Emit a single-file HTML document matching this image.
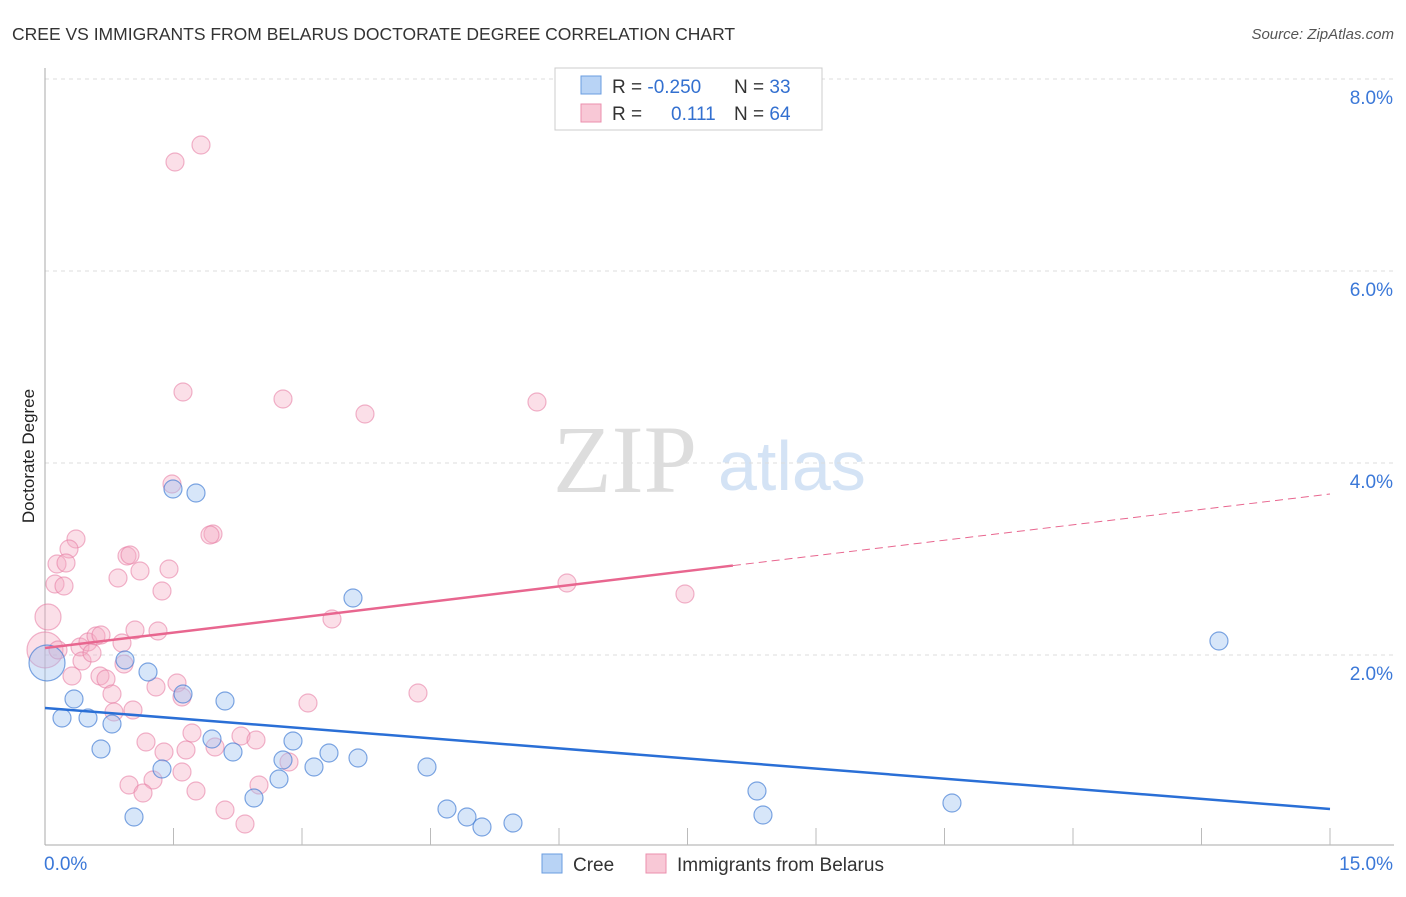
<!DOCTYPE html>
<html><head><meta charset="utf-8"><style>
body{margin:0;background:#fff;font-family:"Liberation Sans",sans-serif;}
</style></head><body>
<svg id="c" width="1406" height="892" font-family="Liberation Sans, sans-serif">
<text x="12" y="40" font-size="17.5" fill="#333">CREE VS IMMIGRANTS FROM BELARUS DOCTORATE DEGREE CORRELATION CHART</text>
<text x="1394" y="39" font-size="15" fill="#555" font-style="italic" text-anchor="end">Source: ZipAtlas.com</text>
<text x="34" y="456" font-size="17" fill="#222" text-anchor="middle" transform="rotate(-90 34 456)">Doctorate Degree</text>
<g>
<text x="553" y="492" font-size="96" fill="#ddd" style="font-family:'Liberation Serif',serif">ZIP</text>
<text x="718" y="490" font-size="70" fill="#d4e3f5">atlas</text>
</g>
<g id="grid"></g>
<g id="ticks"></g>
<g id="pts"></g>
<g id="trend"></g>
<g>
<rect x="555" y="68" width="267" height="62" fill="#fff" stroke="#ccc"/>
<rect x="581" y="76" width="20" height="18" fill="#b8d3f5" stroke="#6a9de0"/>
<rect x="581" y="104" width="20" height="18" fill="#f8c8d6" stroke="#eb8fae"/>
<text x="612" y="93" font-size="19" fill="#333">R = <tspan fill="#3370d0">-0.250</tspan><tspan x="734">N = </tspan><tspan fill="#3370d0">33</tspan></text>
<text x="612" y="120" font-size="19" fill="#333">R = <tspan x="671" fill="#3370d0">0.111</tspan><tspan x="734">N = </tspan><tspan fill="#3370d0">64</tspan></text>
</g>
<g>
<rect x="542" y="854" width="20" height="19" fill="#b8d3f5" stroke="#6a9de0"/>
<text x="573" y="871" font-size="19" fill="#333">Cree</text>
<rect x="646" y="854" width="20" height="19" fill="#f8c8d6" stroke="#eb8fae"/>
<text x="677" y="871" font-size="19" fill="#333">Immigrants from Belarus</text>
</g>
</svg>
<script>
const yTicks=[2,4,6,8];
const yTickLabels=["2.0%","4.0%","6.0%","8.0%"];
const xTickLabels=["0.0%","15.0%"];
function px(p){return (p-45)/85.67;} function py(p){return (847-p)/96;}
const creeX=[47,125,148,74,62,88,112,101,183,225,173,196,353,212,233,162,134,254,279,283,293,314,329,358,427,447,467,482,513,757,763,952,1219].map(px);
const creeY=[663,660,672,699,718,718,724,749,694,701,489,493,598,739,752,769,817,798,779,760,741,767,753,758,767,809,817,827,823,791,815,803,641].map(py);
const belX=[175,201,183,283,365,537,172,213,76,69,127,57,66,55,64,118,140,169,162,48,567,685,332,45,58,80,88,96,101,122,135,158,72,82,92,100,106,124,112,156,177,182,308,418,114,133,146,164,186,192,215,241,256,182,153,129,143,196,225,245,259,289,130,210].map(px);
const belY=[162,145,392,399,414,402,484,534,539,549,556,564,563,584,586,578,571,569,591,617,583,594,619,650,650,647,642,636,635,643,630,631,676,661,653,676,679,664,694,687,683,697,703,693,712,710,742,752,750,733,747,736,740,772,780,785,793,791,810,824,785,762,555,535].map(py);
const belR=[9,9,9,9,9,9,9,9,9,9,9,9,9,9,9,9,9,9,9,13,9,9,9,18,9,9,9,9,9,9,9,9,9,9,9,9,9,9,9,9,9,9,9,9,9,9,9,9,9,9,9,9,9,9,9,9,9,9,9,9,9,9,9,9];
const creeR=[18,9,9,9,9,9,9,9,9,9,9,9,9,9,9,9,9,9,9,9,9,9,9,9,9,9,9,9,9,9,9,9,9];
const creeTrend=[1.448,0.396];
const belTrend=[2.073,3.677];
const X=v=>45+v*1285/15, Y=v=>847-v*96;
const NS="http://www.w3.org/2000/svg";
function mk(t,a,p){const e=document.createElementNS(NS,t);for(const k in a)e.setAttribute(k,a[k]);p.appendChild(e);return e;}
const g=document.getElementById('grid'),tk=document.getElementById('ticks'),pt=document.getElementById('pts'),tr=document.getElementById('trend');
yTicks.forEach((v,i)=>{
 const l=mk('line',{x1:45,x2:1394,y1:Y(v),y2:Y(v),stroke:'#ddd','stroke-dasharray':'4 4'},g);
 
 
 const t=mk('text',{x:1393,y:Y(v)+25,'font-size':19,fill:'#3b78d8','text-anchor':'end'},tk);
 t.textContent=yTickLabels[i];
 
 
});
const ax=mk('line',{x1:45,x2:45,y1:68,y2:845,stroke:'#aaa'},tk);


const bx=mk('line',{x1:45,x2:1394,y1:845,y2:845,stroke:'#aaa'},tk);


for(let i=1;i<=10;i++){const l=mk('line',{x1:X(i*1.5),x2:X(i*1.5),y1:828,y2:845,stroke:'#bbb'},tk);
 
 }
[[0,44,'start'],[15,1393,'end']].forEach((d,i)=>{const t=mk('text',{x:d[1],y:870,'font-size':19,fill:'#3b78d8','text-anchor':d[2]},tk);t.textContent=xTickLabels[i];
 
 });
belX.forEach((v,i)=>{const c=mk('circle',{cx:X(v),cy:Y(belY[i]),r:belR[i],fill:'rgba(245,170,195,0.38)',stroke:'rgba(230,120,160,0.55)','stroke-width':1.2},pt);
 
 });
creeX.forEach((v,i)=>{const c=mk('circle',{cx:X(v),cy:Y(creeY[i]),r:creeR[i],fill:'rgba(160,195,240,0.42)',stroke:'rgba(60,120,210,0.65)','stroke-width':1.2},pt);
 
 });
const l1=mk('line',{x1:X(0),y1:Y(creeTrend[0]),x2:X(15),y2:Y(creeTrend[1]),stroke:'#2a6fd6','stroke-width':2.5},tr);


const xe=8.03, ye=belTrend[0]+(belTrend[1]-belTrend[0])*xe/15;
const l2=mk('line',{x1:X(0),y1:Y(belTrend[0]),x2:X(xe),y2:Y(ye),stroke:'#e8668f','stroke-width':2.5},tr);


const l3=mk('line',{x1:X(xe),y1:Y(ye),x2:X(15),y2:Y(belTrend[1]),stroke:'#e8668f','stroke-width':1,'stroke-dasharray':'8 5'},tr);


</script>
</body></html>
